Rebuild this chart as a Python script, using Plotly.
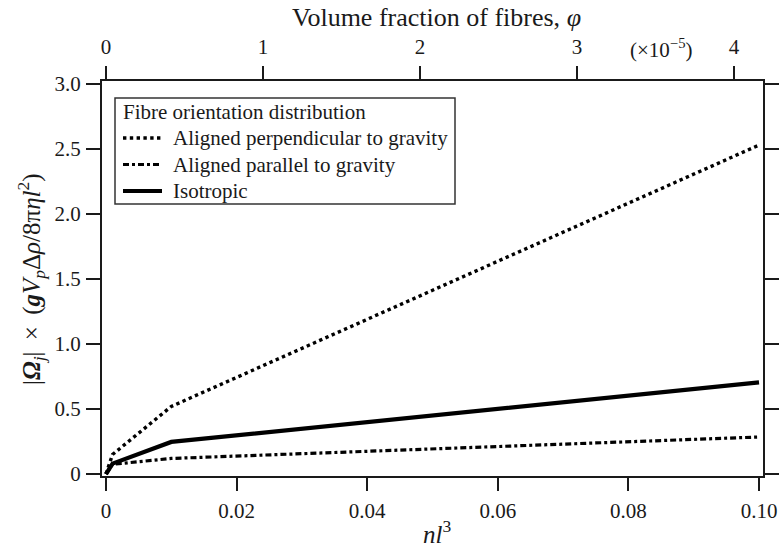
import plotly.graph_objects as go

# Number density nl^3 at which the angular velocity was evaluated
nl3 = [0.0, 0.001, 0.01, 0.1]

# |Omega_j| scaled by g V_p Δρ / 8πηl^2
aligned_perp = [0.0, 0.15, 0.52, 2.53]
aligned_par = [0.0, 0.075, 0.12, 0.285]
isotropic = [0.0, 0.08, 0.247, 0.705]

series_names = ["Aligned perpendicular to gravity", "Aligned parallel to gravity", "Isotropic"]
legend_title = "Fibre orientation distribution"

# Conversion nl^3 -> volume fraction in units of 1e-5
PHI_PER_NL3 = 41.6

x_ticks = [0, 0.02, 0.04, 0.06, 0.08, 0.10]
x_ticktext = ["0", "0.02", "0.04", "0.06", "0.08", "0.10"]
y_ticks = [0, 0.5, 1.0, 1.5, 2.0, 2.5, 3.0]
y_ticktext = ["0", "0.5", "1.0", "1.5", "2.0", "2.5", "3.0"]
phi_ticks = [0, 1, 2, 3, 4]
phi_ticktext = ["0", "1", "2", "3", "4"]

FONT = "Liberation Serif"
INK = "#1a1a1a"
W, H = 779, 551
ML, MR, MT, MB = 102, 16, 81, 75
x_range = [-0.00061, 0.10061]
y_range = [-0.015, 3.023]

styles = [
    dict(width=3.4, dash="3.4px,3.4px"),
    dict(width=3.2, dash="6px,3px,3px,3px"),
    dict(width=4.2, dash="solid"),
]


def px(x):
    """pixel column -> paper x"""
    return (x - ML) / (W - ML - MR)


def py(y):
    """pixel row -> paper y"""
    return (H - MB - y) / (H - MT - MB)


def label(x, y, text, size, xanchor="center", angle=0):
    fig.add_annotation(
        x=px(x), y=py(y), xref="paper", yref="paper", showarrow=False,
        xanchor=xanchor, yanchor="middle", textangle=angle, text=text,
        font=dict(family=FONT, size=size, color=INK),
    )


fig = go.Figure()
for name, vals, st in zip(series_names, [aligned_perp, aligned_par, isotropic], styles):
    fig.add_trace(go.Scatter(
        x=nl3, y=vals, mode="lines", name=name, showlegend=False,
        line=dict(color="black", width=st["width"], dash=st["dash"]),
    ))

# invisible trace that carries the top (volume fraction) axis
fig.add_trace(go.Scatter(
    x=[x_range[0] * PHI_PER_NL3, x_range[1] * PHI_PER_NL3], y=[None, None],
    xaxis="x2", mode="lines", showlegend=False, hoverinfo="skip",
))

tick_font = dict(family=FONT, size=21, color=INK)
axis_common = dict(
    ticks="outside", tickwidth=2, tickcolor=INK,
    showgrid=False, zeroline=False, tickfont=tick_font, automargin=False,
)

fig.update_layout(
    width=W, height=H,
    margin=dict(l=ML, r=MR, t=MT, b=MB),
    paper_bgcolor="white", plot_bgcolor="white",
    font=dict(family=FONT, color=INK),
    showlegend=False,
    xaxis=dict(
        range=x_range, tickvals=x_ticks, ticktext=x_ticktext, ticklen=13,
        showline=True, linecolor=INK, linewidth=2, mirror=True,
        ticklabelstandoff=2, **axis_common,
    ),
    xaxis2=dict(
        overlaying="x", side="top",
        range=[x_range[0] * PHI_PER_NL3, x_range[1] * PHI_PER_NL3],
        tickvals=phi_ticks, ticktext=phi_ticktext, ticklen=14,
        showline=False, ticklabelstandoff=4, **axis_common,
    ),
    yaxis=dict(
        range=y_range, tickvals=y_ticks, ticktext=y_ticktext, ticklen=14,
        showline=True, linecolor=INK, linewidth=2, mirror="ticks",
        ticklabelstandoff=1, **axis_common,
    ),
)

# axis titles
label(436, 17, "Volume fraction of fibres, <i>φ</i>", 26)
label(437, 532, "<i>nl</i><sup>3</sup>", 25)
label(31, 279,
      "|<b><i>Ω</i></b><sub><i>j</i></sub>| \u2009×\u2009 (<b><i>g</i></b><i>V</i><sub><i>p</i></sub>"
      "Δ<i>ρ</i>/8π<i>ηl</i><sup>2</sup>)", 25, angle=-90)
fig.add_annotation(
    x=0.0850, xref="x", y=py(48), yref="paper", showarrow=False,
    xanchor="center", yanchor="middle",
    text="(×10<sup>−5</sup>)", font=dict(family=FONT, size=21, color=INK),
)

# legend box with title and line samples
fig.add_shape(
    type="rect", xref="paper", yref="paper",
    x0=px(115), x1=px(455), y0=py(98), y1=py(204),
    line=dict(color="#333", width=1.5), fillcolor="white", layer="below",
)
label(121, 112, legend_title, 21, xanchor="left")
for i, (name, st) in enumerate(zip(series_names, styles)):
    row = 138 + i * 26.5
    fig.add_shape(
        type="line", xref="paper", yref="paper",
        x0=px(123), x1=px(162), y0=py(row), y1=py(row),
        line=dict(color="black", width=st["width"], dash=st["dash"]),
    )
    label(171, row, name, 21, xanchor="left")

fig.write_html("out.html")
